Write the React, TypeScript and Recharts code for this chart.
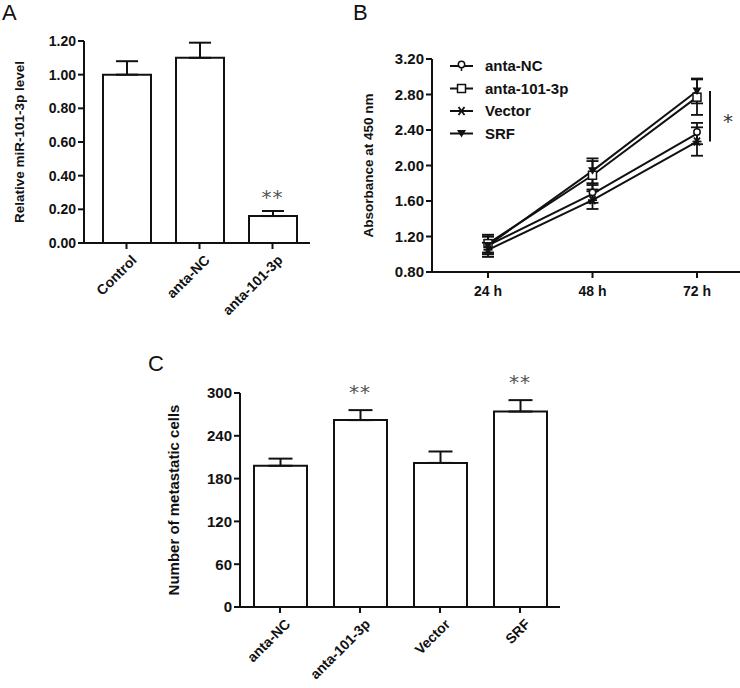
import React from "react";
import {
  BarChart, Bar, LineChart, Line, XAxis, YAxis, ErrorBar,
  ReferenceDot, ReferenceLine, Legend,
} from "recharts";

// Panel A – relative miR-101-3p level
const groupsA = ["Control", "anta-NC", "anta-101-3p"];
const levelA = [1.0, 1.1, 0.16];
const levelErrA = [0.08, 0.09, 0.03];
const sigA = ["", "", "**"];
const ticksA = [0, 0.2, 0.4, 0.6, 0.8, 1.0, 1.2];

// Panel B – CCK-8 absorbance
const timesB = ["24 h", "48 h", "72 h"];
const antaNC = [1.1, 1.68, 2.36];
const antaNCErr = [0.1, 0.1, 0.12];
const anta1013p = [1.12, 1.89, 2.77];
const anta1013pErr = [0.1, 0.16, 0.2];
const vector = [1.05, 1.61, 2.27];
const vectorErr = [0.08, 0.1, 0.16];
const srf = [1.1, 1.94, 2.84];
const srfErr = [0.1, 0.14, 0.14];
const ticksB = [0.8, 1.2, 1.6, 2.0, 2.4, 2.8, 3.2];

// Panel C – metastatic cells
const groupsC = ["anta-NC", "anta-101-3p", "Vector", "SRF"];
const cellsC = [198, 262, 202, 274];
const cellsErrC = [10, 14, 16, 16];
const sigC = ["", "**", "", "**"];
const ticksC = [0, 60, 120, 180, 240, 300];

const FONT = "'Liberation Sans', Arial, Helvetica, sans-serif";
const INK = "#111";

const dataA = groupsA.map((g, i) => ({ name: g, v: levelA[i], e: [0, levelErrA[i]] }));
const dataC = groupsC.map((g, i) => ({ name: g, v: cellsC[i], e: [0, cellsErrC[i]] }));
const dataB = timesB.map((t, i) => ({
  t,
  nc: antaNC[i], ncE: antaNCErr[i],
  p: anta1013p[i], pE: anta1013pErr[i],
  vec: vector[i], vecE: vectorErr[i],
  srf: srf[i], srfE: srfErr[i],
}));

const yTitle = (text: string, x: number, size: number) => (props: any) => {
  const vb = props.viewBox || {};
  const cy = vb.y + vb.height / 2;
  return (
    <text x={x} y={cy} transform={`rotate(-90, ${x}, ${cy})`} textAnchor="middle"
      dominantBaseline="central" fontFamily={FONT} fontWeight="bold" fontSize={size} fill={INK}>
      {text}
    </text>
  );
};

const stars = (offset: number) => (props: any) => {
  const { viewBox, value } = props;
  if (!value) return null;
  return (
    <text x={viewBox.x} y={viewBox.y - offset} textAnchor="middle" fontFamily="'DejaVu Sans', sans-serif"
      fontSize={20} fill="#555" letterSpacing={1}>
      {value}
    </text>
  );
};

// markers for panel B
type MarkerKind = "circle" | "square" | "star" | "tri";
function Marker({ cx, cy, kind }: { cx: number; cy: number; kind: MarkerKind }) {
  if (kind === "circle")
    return (
      <g>
        <circle cx={cx} cy={cy - 1.5} r={3.2} fill="#fff" stroke={INK} strokeWidth={1.5} />
        <line x1={cx} y1={cy + 1.5} x2={cx} y2={cy + 5} stroke={INK} strokeWidth={1.5} />
      </g>
    );
  if (kind === "square")
    return <rect x={cx - 4} y={cy - 4} width={8} height={8} fill="#fff" stroke={INK} strokeWidth={1.5} />;
  if (kind === "star")
    return (
      <g stroke={INK} strokeWidth={1.8}>
        <line x1={cx - 4.5} y1={cy} x2={cx + 4.5} y2={cy} />
        <line x1={cx - 3} y1={cy - 4} x2={cx + 3} y2={cy + 4} />
        <line x1={cx - 3} y1={cy + 4} x2={cx + 3} y2={cy - 4} />
      </g>
    );
  return <path d={`M${cx - 4.5},${cy - 3.5} L${cx + 4.5},${cy - 3.5} L${cx},${cy + 4} Z`} fill={INK} />;
}

const dotOf = (kind: MarkerKind) => (p: any) =>
  <Marker key={`${kind}-${p.index}`} cx={p.cx} cy={p.cy} kind={kind} />;

const seriesB: { key: string; err: string; name: string; kind: MarkerKind }[] = [
  { key: "nc", err: "ncE", name: "anta-NC", kind: "circle" },
  { key: "p", err: "pE", name: "anta-101-3p", kind: "square" },
  { key: "vec", err: "vecE", name: "Vector", kind: "star" },
  { key: "srf", err: "srfE", name: "SRF", kind: "tri" },
];

const LegendB = () => (
  <svg width={160} height={92}>
    {seriesB.map((s, i) => {
      const y = 11 + i * 22.5;
      return (
        <g key={s.key}>
          <line x1={2} y1={y} x2={25} y2={y} stroke={INK} strokeWidth={2} />
          <Marker cx={13.5} cy={y} kind={s.kind} />
          <text x={37} y={y + 5} fontFamily={FONT} fontWeight="bold" fontSize={15} fill={INK}>
            {s.name}
          </text>
        </g>
      );
    })}
  </svg>
);

const Bracket = (props: any) => {
  const { x1, y1, y2 } = props;
  const x = x1 + 13;
  return (
    <g>
      <line x1={x} y1={y1} x2={x} y2={y2} stroke={INK} strokeWidth={2} />
      <text x={x + 18} y={(y1 + y2) / 2 + 12} textAnchor="middle" fontFamily="'DejaVu Sans', sans-serif"
        fontSize={20} fill="#333">*</text>
    </g>
  );
};

const tickStyle = { fontFamily: FONT, fontWeight: "bold", fill: INK } as const;
const slantTick = { ...tickStyle, fontSize: 14, angle: -45, textAnchor: "end", dx: 4, dy: 3 } as any;
const axisLine = { stroke: INK, strokeWidth: 2 };
const letter = (t: string, x: number, y: number) => (
  <div style={{ position: "absolute", left: x, top: y, fontFamily: FONT, fontSize: 22, lineHeight: "24px", color: INK }}>
    {t}
  </div>
);

export default function App() {
  return (
    <div style={{ position: "absolute", left: 0, top: 0, width: 740, height: 688, background: "#fff" }}>
      {letter("A", 2, 1)}
      {letter("B", 353, 1)}
      {letter("C", 148, 352)}

      <div style={{ position: "absolute", left: 0, top: 0 }}>
        <BarChart width={330} height={330} data={dataA} margin={{ top: 41, right: 20, left: 0, bottom: 0 }}>
          <YAxis domain={[0, 1.2]} ticks={ticksA} width={84} tickFormatter={(v: number) => v.toFixed(2)}
            tick={{ ...tickStyle, fontSize: 14 }} tickSize={6} axisLine={axisLine}
            tickLine={axisLine} label={{ content: yTitle("Relative miR-101-3p level", 19, 13.5) }} />
          <XAxis dataKey="name" height={87} tick={slantTick} tickSize={6} axisLine={axisLine}
            tickLine={axisLine} padding={{ left: 6, right: 1 }} interval={0} />
          <Bar dataKey="v" barSize={48} fill="#fff" stroke={INK} strokeWidth={2} isAnimationActive={false}>
            <ErrorBar dataKey="e" width={11} stroke={INK} strokeWidth={2} direction="y" />
          </Bar>
          {groupsA.map((g, i) => (
            <ReferenceDot key={g} x={g} y={levelA[i] + levelErrA[i]} r={0} stroke="none"
              label={{ value: sigA[i], content: stars(7) }} />
          ))}
        </BarChart>
      </div>

      <div style={{ position: "absolute", left: 340, top: 0 }}>
        <LineChart width={400} height={330} data={dataB} margin={{ top: 59, right: 0, left: 0, bottom: 0 }}>
          <YAxis domain={[0.8, 3.2]} ticks={ticksB} width={92} tickFormatter={(v: number) => v.toFixed(2)}
            tick={{ ...tickStyle, fontSize: 15 }} tickSize={6} axisLine={axisLine}
            tickLine={axisLine} label={{ content: yTitle("Absorbance at 450 nm", 28, 13.5) }} />
          <XAxis dataKey="t" height={58} tick={{ ...tickStyle, fontSize: 14, dy: 6 }} tickSize={6}
            axisLine={axisLine} tickLine={axisLine} padding={{ left: 56, right: 43 }} />
          <Legend layout="vertical" align="center" verticalAlign="middle" content={<LegendB />}
            wrapperStyle={{ left: 108, top: 55, width: 160 }} />
          {seriesB.map((s) => (
            <Line key={s.key} type="linear" dataKey={s.key} name={s.name} stroke={INK} strokeWidth={2}
              dot={dotOf(s.kind)} activeDot={false} isAnimationActive={false}>
              <ErrorBar dataKey={s.err} width={6} stroke={INK} strokeWidth={1.8} direction="y" />
            </Line>
          ))}
          <ReferenceLine segment={[{ x: timesB[2], y: srf[2] }, { x: timesB[2], y: vector[2] }]}
            shape={<Bracket />} />
        </LineChart>
      </div>

      <div style={{ position: "absolute", left: 150, top: 330 }}>
        <BarChart width={420} height={358} data={dataC} margin={{ top: 63, right: 10, left: 0, bottom: 0 }}>
          <YAxis domain={[0, 300]} ticks={ticksC} width={90} tick={{ ...tickStyle, fontSize: 15 }}
            tickSize={6} axisLine={axisLine} tickLine={axisLine}
            label={{ content: yTitle("Number of metastatic cells", 23, 15) }} />
          <XAxis dataKey="name" height={81} tick={slantTick} tickSize={6} axisLine={axisLine}
            tickLine={axisLine} interval={0} />
          <Bar dataKey="v" barSize={53} fill="#fff" stroke={INK} strokeWidth={2} isAnimationActive={false}>
            <ErrorBar dataKey="e" width={12} stroke={INK} strokeWidth={2} direction="y" />
          </Bar>
          {groupsC.map((g, i) => (
            <ReferenceDot key={g} x={g} y={cellsC[i] + cellsErrC[i]} r={0} stroke="none"
              label={{ value: sigC[i], content: stars(11) }} />
          ))}
        </BarChart>
      </div>
    </div>
  );
}
